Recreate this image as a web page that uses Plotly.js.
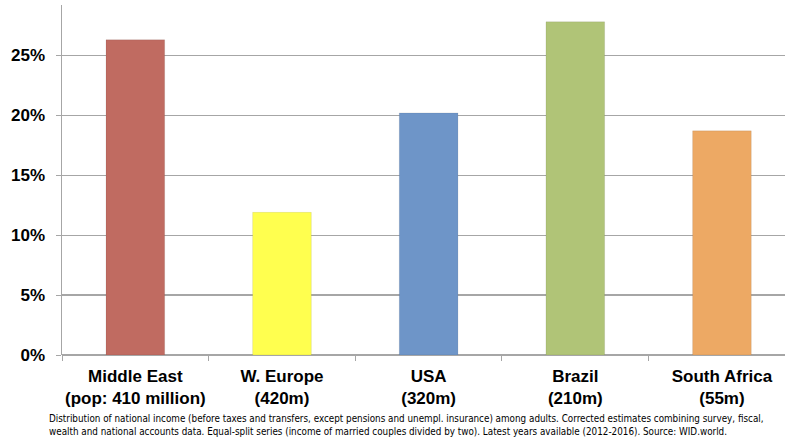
<!DOCTYPE html>
<html>
<head>
<meta charset="utf-8">
<script src="https://cdn.plot.ly/plotly-3.0.1.min.js"></script>
<style>html,body{margin:0;padding:0;background:#fff;}#chart{width:785px;height:441px;}</style>
</head>
<body>
<div id="chart"></div>
<script>
const categories = ["Middle East<br>(pop: 410 million)", "W. Europe<br>(420m)", "USA<br>(320m)", "Brazil<br>(210m)", "South Africa<br>(55m)"];
const values = [26.3, 11.9, 20.2, 27.8, 18.7];
const colors = ["#C06B61", "#FFFF4F", "#6E95C8", "#B0C477", "#EDA964"];
const yTickVals = [0, 5, 10, 15, 20, 25];
const yTickText = ["0%", "5%", "10%", "15%", "20%", "25%"];
const footnote = "Distribution of national income (before taxes and transfers, except pensions and unempl. insurance) among adults. Corrected estimates combining survey, fiscal,<br>wealth and national accounts data. Equal-split series (income of married couples divided by two). Latest years available (2012-2016). Source: WID.world.";

const trace = {
  type: "bar",
  x: categories,
  y: values,
  width: 0.4,
  marker: {color: colors, line: {color: "rgba(0,0,0,0.08)", width: 1}},
  hoverinfo: "none"
};

const layout = {
  width: 785, height: 441,
  margin: {l: 62, r: 0, t: 5, b: 86},
  paper_bgcolor: "#fff", plot_bgcolor: "#fff",
  showlegend: false,
  bargap: 0.6,
  xaxis: {
    type: "category",
    range: [-0.5, 4.43],
    tickson: "boundaries",
    tickangle: 0,
    ticks: "outside", ticklen: 5, tickcolor: "#A6A6A6",
    showline: false, showgrid: false, zeroline: false,
    tickfont: {family: "Liberation Sans, Arial, sans-serif", size: 17, color: "#000", weight: "bold"},
    ticklabelstandoff: 9,
    fixedrange: true
  },
  yaxis: {
    range: [0, 29.2],
    tickvals: yTickVals, ticktext: yTickText,
    ticks: "outside", ticklen: 5, tickcolor: "#A6A6A6",
    showline: true, linecolor: "#A6A6A6", linewidth: 1.5,
    showgrid: true, gridcolor: "#A6A6A6", gridwidth: 1.2,
    zeroline: true, zerolinecolor: "#A6A6A6", zerolinewidth: 1.5,
    tickfont: {family: "Liberation Sans, Arial, sans-serif", size: 17, color: "#000", weight: "bold"},
    ticklabelstandoff: 7,
    fixedrange: true
  },
  annotations: [{
    text: footnote,
    xref: "paper", yref: "paper",
    x: -0.021, y: -0.159,
    xanchor: "left", yanchor: "top",
    align: "left",
    showarrow: false,
    font: {family: "DejaVu Sans Condensed, sans-serif", size: 9.8, color: "#000"}
  }]
};

Plotly.newPlot("chart", [trace], layout, {displayModeBar: false, staticPlot: true});
</script>
</body>
</html>
